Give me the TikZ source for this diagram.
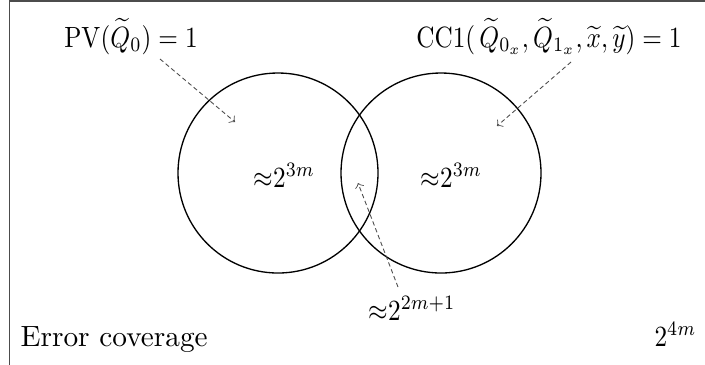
\documentclass[tikz,border=0pt]{standalone}
\usepackage{amsmath}
\usepackage{graphicx}
\newcommand{\narrowmath}[1]{\scalebox{0.86}[1]{$#1$}}
\begin{document}
\begin{tikzpicture}[x=0.3413pt,y=-0.3413pt,
  frame/.style={draw=black!70,line width=0.6pt},
  setcirc/.style={circle,draw,line width=0.45pt,minimum size=68.26pt,inner sep=0pt},
  pointer/.style={->,draw=black!70,line width=0.3pt,dash pattern=on 1.5pt off 1pt},
  lbl/.style={inner sep=0pt,font=\normalsize}]
\useasboundingbox (0,0) rectangle (705,364);
\clip (0,0) rectangle (705,364);
\draw[frame] (9.5,1) rectangle (720,380);
\node[setcirc] (L) at (278,173) {};
\node[setcirc] (R) at (441,173) {};
\node[lbl,anchor=base west] (l3) at (253,187) {\narrowmath{{\approx}2^{3m}}};
\node[lbl,anchor=base west] (r3) at (420,187) {\narrowmath{{\approx}2^{3m}}};
\node[lbl,anchor=base west] (mid) at (368,320) {\narrowmath{{\approx}2^{2m+1}}};
\node[lbl,anchor=base west] (err) at (20,346) {Error coverage};
\node[lbl,anchor=base east] (tot) at (697,346) {\narrowmath{2^{4m}}};
\node[lbl,anchor=base] (pv) at (131,47) {\narrowmath{\mathrm{PV}(\widetilde{Q}_0) = 1}};
\node[lbl,anchor=base] (cc) at (549,47) {\narrowmath{\mathrm{CC1}(\,\widetilde{Q}_{0_x},\widetilde{Q}_{1_x},\widetilde{x},\widetilde{y}) = 1}};
\coordinate (pvs) at (160,59);
\coordinate (pve) at (235,122);
\coordinate (ccs) at (571,62);
\coordinate (cce) at (497,126);
\coordinate (mids) at (398,287);
\coordinate (mide) at (358,183);
\draw[pointer] (pvs) -- (pve);
\draw[pointer] (ccs) -- (cce);
\draw[pointer] (mids) -- (mide);
\end{tikzpicture}
\end{document}
